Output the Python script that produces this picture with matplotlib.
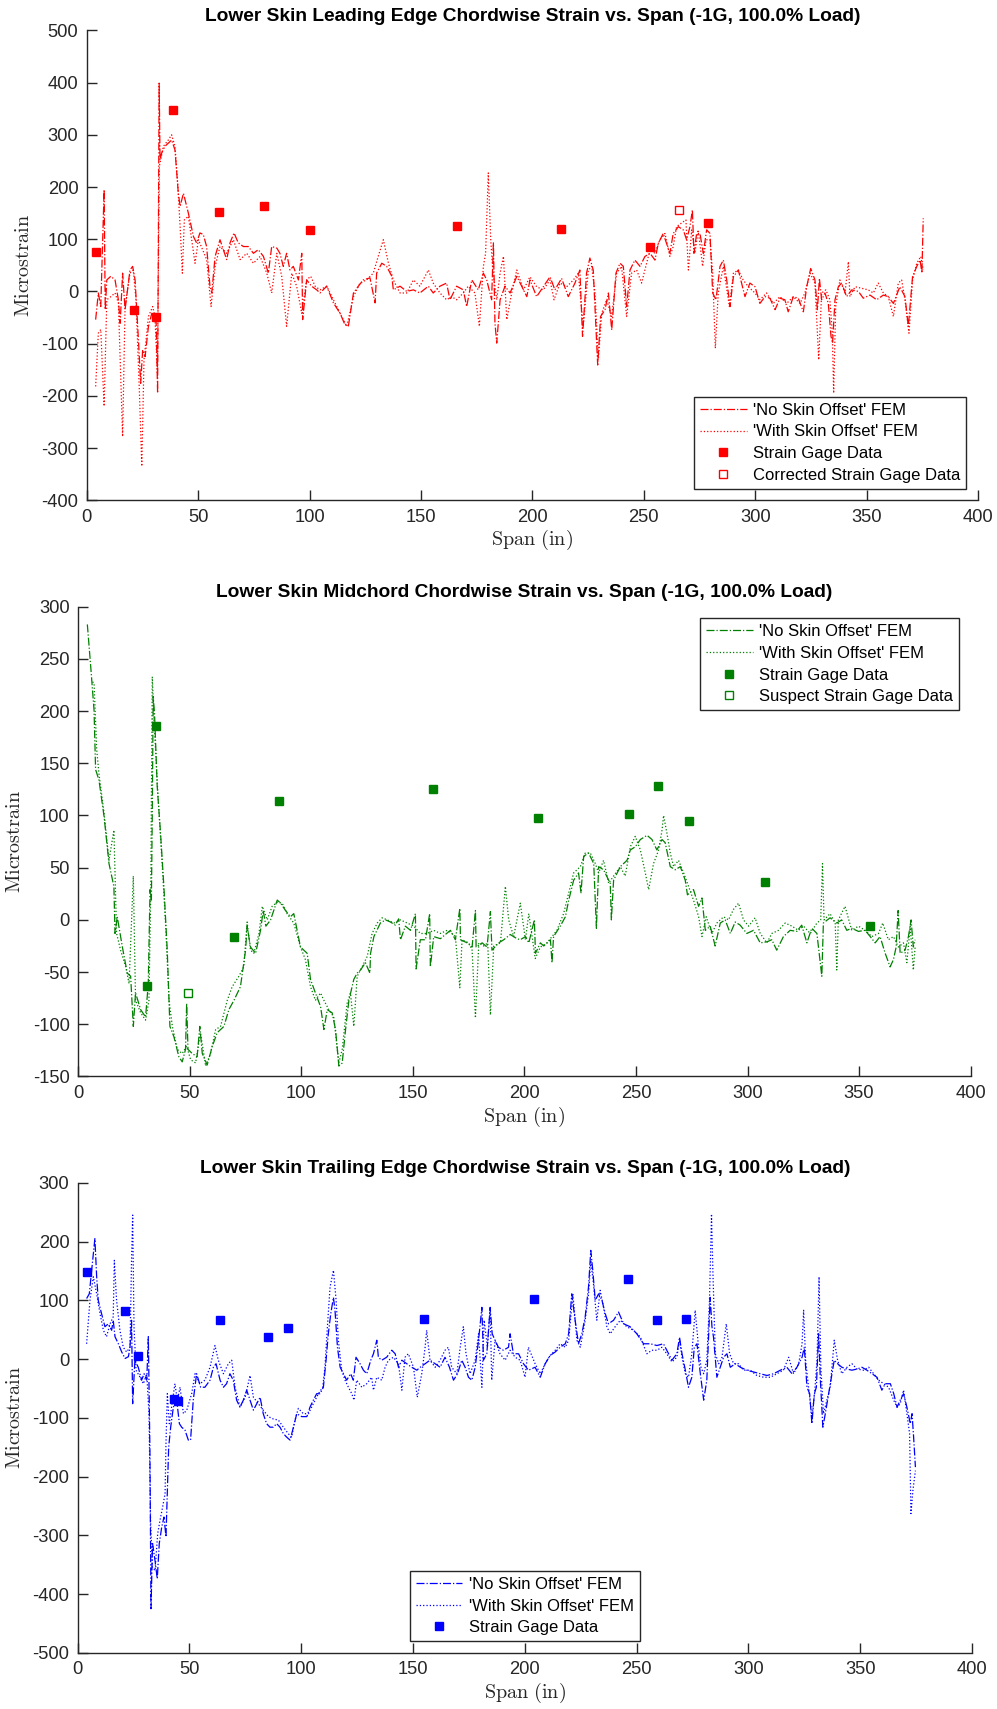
import matplotlib
matplotlib.use("Agg")
import matplotlib.pyplot as plt

plt.rcParams['font.family'] = ['Liberation Sans', 'DejaVu Sans']
plt.rcParams['mathtext.fontset'] = 'cm'
plt.rcParams['axes.unicode_minus'] = False

AXIS_COLOR = '#262626'

# ---- Leading edge (top panel) ----
le_no_offset = [
    (4, -54), (5.2, -3), (6.3, -29), (7.8, 195), (8.3, -35), (9, 22), (10.8, 29), (12.7, 22), (14.2, -16), (15, -61),
    (16.1, 35), (17.2, -35), (19.4, 41), (20.6, 48), (21.7, 22), (23.2, -93), (24.2, -176), (25.1, -112), (26.2, -125),
    (27.7, -67), (29.2, -42), (31.1, -48), (31.8, -195), (32.5, 399), (32.9, 252), (33.6, 265), (35.1, 278), (36.6, 284),
    (38.1, 290), (39.6, 271), (41.1, 188), (41.9, 163), (43.4, 188), (45.6, 150), (47.9, 105), (49.3, 93), (50.8, 112),
    (52.3, 109), (53.8, 86), (55.3, 10), (56.1, -3), (57.6, 67), (59.8, 99), (61.3, 80), (62.8, 61), (64.3, 93),
    (66.1, 112), (68, 93), (70.3, 86), (72.5, 86), (74.8, 73), (77, 80), (79.3, 67), (81.5, 35), (83, 86), (85.3, 83),
    (86.7, 73), (88.2, 48), (89.7, 73), (91.2, 41), (92.7, 48), (95, 22), (96.5, 73), (96.9, -54), (98.7, 22),
    (100.9, 10), (103.2, 3), (104.7, -3), (107.7, 10), (110.7, -22), (113.7, -42), (115.9, -64), (117.4, -67),
    (119.7, -3), (121.9, 10), (124.1, 22), (127.1, 26), (129.4, -22), (130.1, 35), (132.4, 54), (134.6, 48),
    (136.9, 29), (137.6, 3), (140.6, 10), (143.6, 0), (146.6, 3), (149.5, -3), (153.3, 10), (155.5, -3), (158.5, 10),
    (161.5, 16), (163, -16), (166, 10), (169, 3), (170.5, -29), (172.8, 22), (175.7, 3), (178, 35), (179.5, 22),
    (181.7, -16), (182.5, 93), (183.2, -61), (184, -99), (185.5, -16), (187.7, 10), (190, -3), (193, 29), (195.2, 10),
    (197.5, -10), (198.9, 22), (201.9, -10), (204.9, 9), (207.9, 28), (210.1, 3), (213.1, 25), (216.1, -10),
    (219.1, 16), (221.3, 41), (222.5, -86), (224.3, 35), (225.8, 64), (227.3, 41), (229.3, -141), (230.6, -48),
    (232.6, -35), (234.1, -3), (235.6, -74), (237.5, 35), (239.3, 54), (240.8, 48), (242.3, -29), (243.8, 41),
    (246, 60), (248.3, 48), (250.5, 67), (252.8, 73), (255, 60), (256.5, 92), (258.7, 111), (261.7, 73), (263.2, 111),
    (265.5, 124), (267.7, 118), (269.2, 99), (270.7, 124), (271.8, 156), (272.5, 73), (273.7, 111), (275.2, 111),
    (276.7, 73), (278.2, 118), (279.7, 111), (280.9, -3), (282.4, -16), (284.2, 48), (285.7, 60), (287.2, 22),
    (288.7, -29), (290.2, 28), (292.4, 41), (295.4, -10), (297.6, 16), (299.9, 9), (302.1, -23), (304.4, -10),
    (306.6, -13), (308.9, -35), (311.1, -13), (313.3, -16), (314.8, -39), (317.1, -10), (319.3, -13), (321.6, -39),
    (323.1, 9), (324.9, 44), (326.8, 22), (327.9, -35), (328.8, 25), (329.8, -16), (331.3, -3), (332.8, -23),
    (334, -86), (334.7, -99), (335.8, -16), (337.3, 9), (338.8, 16), (341, -10), (343.3, 3), (346.3, 0), (348.5, -13),
    (351.5, -7), (354.5, -16), (357.5, -7), (359.7, -10), (362, -23), (364.9, 9), (367.2, -10), (368.7, -67),
    (370.6, 28), (372.5, 48), (374, 60), (374.8, 35), (375.4, 140),
]
le_with_offset = [
    (4, -182), (5.2, -80), (6.3, -73), (7.8, -220), (9, -16), (10.8, -10), (12.7, -3), (14.2, -22), (16.1, -278),
    (17.2, -29), (19.4, 35), (20.9, 41), (22.1, -16), (23.6, -188), (24.7, -335), (25.7, -131), (27.7, -48),
    (29.6, -29), (30.6, -48), (31.7, -156), (32.6, 240), (34.4, 278), (36.6, 290), (38.1, 300), (39.6, 278),
    (40.8, 208), (41.9, 125), (42.9, 35), (43.8, 137), (45.6, 144), (48.6, 54), (50.1, 99), (52, 80), (53.8, 61),
    (55.8, -29), (57.6, 48), (59.8, 86), (62.8, 73), (65.8, 99), (68.8, 61), (71.8, 73), (74.8, 54), (77.8, 67),
    (80.8, 35), (83, -3), (85.3, 73), (87.5, 29), (89.7, -67), (92, 35), (94.2, 10), (96.5, -42), (98.7, 22),
    (100.5, 29), (102.5, 10), (104.7, 3), (107.7, 10), (110.7, -16), (114.4, -48), (116.7, -67), (119.7, -10),
    (122.6, 16), (125.6, 22), (128.6, 35), (130.8, 67), (133.1, 99), (135.4, 54), (137.6, 22), (140.6, -3),
    (143.6, -3), (146.6, 22), (149.5, 10), (153.3, 41), (155.5, 16), (158.5, -3), (161.5, -16), (163.8, -10),
    (166, -16), (169, -3), (171.2, 10), (174.2, -3), (176.2, -67), (178, 48), (179, 73), (180.2, 227), (181.3, 99),
    (182.2, 41), (184, -16), (185.5, 35), (187, 67), (188.5, -54), (190.7, -3), (193, 41), (196, 3), (198.9, 28),
    (201.9, 9), (204.9, 3), (207.9, 22), (209.7, -16), (212.4, 16), (215.4, 9), (218.4, 22), (220.6, 35),
    (222.8, -67), (225.1, 41), (226.6, 48), (228.1, -3), (229.6, -131), (231.1, -42), (233.3, -16), (235.6, -48),
    (237.8, 35), (240, 48), (242.3, -48), (244.5, 35), (246.8, 41), (249, 16), (250.5, 41), (252.8, 80), (255, 73),
    (257.2, 99), (259.5, 111), (261.7, 67), (263.2, 86), (264.7, 124), (266.9, 131), (268.9, 137), (270, 41),
    (271.5, 118), (272.9, 73), (274.4, 118), (276.4, 48), (277.9, 99), (279.7, 99), (280.9, 35), (282.1, -109),
    (283.4, -3), (285.7, 48), (288.4, -29), (290.2, 35), (292.4, 41), (294.6, 22), (296.9, 9), (299.9, -3),
    (302.1, -16), (305.1, -3), (308.1, -23), (311.1, -10), (314.1, -23), (317.1, -10), (320.1, -23), (322.3, -3),
    (324.6, 35), (326.8, 16), (328.5, -131), (329.8, -3), (331.7, 3), (333.5, -16), (334.6, -80), (335.2, -195),
    (336.1, -29), (338, 22), (340.3, -3), (341.8, 57), (342.5, -10), (344.8, 9), (347.7, 6), (350.7, 3), (353, -3),
    (355.2, 16), (357.5, -3), (359.7, -10), (362, -48), (364.2, 16), (365.7, 22), (367.2, -16), (369, -80),
    (370.6, 22), (372.5, 54), (374.3, 67), (375.4, 41),
]
le_gage = [(4, 76), (21, -35), (31, -49), (38.6, 348), (59.5, 153), (79.4, 163), (100.2, 117), (166, 125),
           (213, 119), (253, 86), (279, 132)]
le_gage_corrected = [(266, 156)]

# ---- Midchord (middle panel) ----
mc_no_offset = [
    (4.2, 283), (5.7, 243), (7.2, 201), (7.9, 144), (9.4, 134), (11.7, 99), (13.9, 54), (16.1, 32), (16.6, -13),
    (17.6, 3), (19.9, -26), (22.1, -51), (23.6, -54), (24.8, -102), (25.8, -70), (28.1, -86), (30.3, -93),
    (31.5, -61), (32.3, 29), (32.9, 19), (33.3, 102), (33.7, 214), (34.3, 198), (35.5, 128), (37, 83), (38.5, 32),
    (40, -29), (41.2, -102), (43, -112), (45.2, -131), (46.7, -136), (48.2, -124), (48.7, -80), (49.3, -124),
    (51.2, -128), (53.4, -131), (54.6, -102), (55.7, -128), (57.9, -139), (60.2, -121), (62.4, -108), (65.4, -102),
    (67.6, -86), (69.9, -77), (72.8, -64), (75.1, -29), (75.8, -6), (77.3, -26), (79.6, -32), (81.8, -10), (83, 9),
    (84.2, -6), (86.3, 0), (89.3, 19), (90.8, 16), (93, 9), (95.2, 3), (96.7, 6), (99.7, -26), (102.7, -32),
    (104.2, -57), (106.4, -70), (108.7, -83), (110.2, -105), (111.7, -86), (113.9, -89), (115.4, -105),
    (116.9, -140), (118.4, -137), (119.9, -105), (121.4, -77), (123.6, -57), (125.1, -51), (126.6, -48),
    (128.8, -41), (130.8, -51), (131.1, -32), (132.6, -16), (135.5, -3), (137.8, 0), (140, -2), (142.2, -5),
    (143.7, 1), (144.5, -19), (146.7, -6), (149, -10), (151.2, 6), (151.5, -47), (153.4, -19), (155.7, -19),
    (157.6, 6), (157.9, -45), (159.4, -16), (162.4, -18), (164.6, -14), (166.9, -10), (169.1, -19), (171.1, 11),
    (171.4, -19), (174.4, -22), (176.6, -26), (178.1, 9), (178.4, -26), (181.1, -22), (183.3, -26), (184.8, 8),
    (185.5, -29), (188.5, -22), (190.8, -19), (193.7, -14), (196.7, -18), (198.2, -19), (200.5, -16), (202, -22),
    (204.5, 0), (205, -32), (207.2, -22), (208.7, -25), (211.7, -19), (212.4, -41), (213.1, -16), (216.1, -6),
    (218.4, 3), (219.9, 19), (222.1, 38), (224.3, 45), (225.4, 26), (226.6, 61), (228.8, 64), (231.1, 54),
    (232.3, -8), (233.3, 51), (235.5, 48), (238.5, 35), (239, 0), (240, 38), (243, 51), (246, 57), (247.5, 67),
    (249.7, 70), (252, 77), (255, 81), (257.2, 77), (259.4, 67), (261.7, 77), (263.1, 74), (265.4, 51), (267.6, 48),
    (269.9, 51), (272.1, 38), (273.1, 24), (275.8, 29), (278.1, 13), (279.6, 21), (281.1, -10), (283.3, -6),
    (285.5, -25), (287.8, -3), (290, 0), (292.3, -13), (294.5, -2), (296.7, -5), (299.7, -13), (302.7, -10),
    (305.7, -22), (308.7, -21), (310.9, -19), (313.1, -29), (316.1, -16), (319.1, -10), (322.1, -11), (324.3, -5),
    (326.6, -22), (328.8, -8), (331.1, -13), (333.3, -54), (334, -3), (337, 2), (340, -3), (342.2, 0), (344.5, -10),
    (346.7, -8), (349.7, -11), (352.7, -10), (355, -16), (357.2, -22), (359.4, -16), (361.7, -32), (363.9, -45),
    (365.4, -38), (366.6, -26), (367.5, 9), (368.4, -32), (370.6, -29), (372.1, -16), (373.3, 0), (374.3, -26),
    (375.1, -19),
]
mc_with_offset = [
    (6.5, 228), (7.2, 227), (8.4, 163), (9.4, 140), (11.7, 102), (13.9, 57), (16.1, 86), (17.3, -13), (19.1, -29),
    (21.4, -45), (22.9, -61), (24.8, 42), (25.8, -77), (28.1, -89), (30.3, -96), (31.8, -77), (32.6, 26), (33, 153),
    (33.3, 233), (34, 195), (35.8, 121), (37.8, 51), (39.3, -6), (40.8, -77), (42.3, -102), (44.5, -124),
    (46.7, -128), (48.7, -121), (50.5, -134), (52.7, -137), (54.9, -108), (57.2, -140), (59.4, -128), (61.7, -105),
    (63.9, -102), (66.9, -77), (69.1, -64), (72.1, -54), (74.3, -45), (75.8, -2), (77.3, -29), (78.8, -32),
    (81.1, -13), (82.6, 13), (84.8, 0), (87, 13), (89.3, 17), (91.5, 16), (93.7, 6), (96.7, -3), (99.7, -26),
    (101.9, -38), (104.2, -64), (106.4, -77), (108.7, -70), (110.2, -77), (112.4, -86), (114.6, -93), (116.9, -137),
    (118.4, -124), (120.6, -80), (122.1, -70), (123.6, -102), (125.1, -54), (127.3, -45), (129.6, -35), (131.8, -13),
    (134.1, -3), (136.3, 2), (138.6, 0), (141.5, -3), (144.5, 0), (147.5, -3), (150.5, -6), (153.4, -13),
    (156.4, -13), (159.4, -10), (162.4, -13), (165.4, -10), (167.6, -13), (169.1, -16), (171.1, -65), (172.1, -19),
    (175.1, -22), (176.6, -29), (178.1, -94), (179.6, -22), (181.8, -25), (183.6, -22), (184.8, -91), (186.3, -25),
    (189.3, -22), (191.5, 32), (193, 0), (195.2, -16), (198.2, 16), (200.5, -19), (202, 6), (204.9, -37),
    (207.2, -26), (210.2, -22), (212.4, -16), (214.6, -10), (217.6, 6), (219.9, 26), (222.1, 45), (225.1, 51),
    (227.3, 64), (229.6, 64), (231.8, 54), (233.3, 45), (235.5, 57), (237.8, 35), (240, 42), (243, 51), (245.2, 42),
    (247.5, 70), (249.7, 80), (252, 67), (254.2, 45), (255.7, 29), (257.9, 54), (260.2, 67), (261.7, 86),
    (262.4, 100), (263.9, 83), (265.4, 64), (266.9, 51), (269.1, 57), (271.4, 45), (273.6, 32), (275.8, 19),
    (278.1, 3), (279.6, -16), (281.5, 3), (284, -13), (286.3, -3), (289.3, 3), (291.5, 0), (293.7, 10), (296, 16),
    (298.2, 0), (300.5, -6), (303.4, 2), (305.7, -13), (308.7, -22), (310.9, -13), (313.9, -10), (316.9, -3),
    (319.9, -6), (322.8, -10), (325.1, -6), (328.1, -13), (331.1, -3), (332.8, 0), (333.6, 54), (334.3, 0), (337, 6),
    (339.3, -3), (340, -48), (340.7, 0), (343.7, 13), (346.7, -10), (349.7, -6), (352.7, -10), (355.7, -16),
    (358.7, -13), (360.6, -3), (363.1, -19), (365.4, -16), (367.6, -26), (369.9, -22), (371.4, -41), (372.9, -6),
    (374.3, -48), (375.1, -26),
]
mc_gage = [(31, -63), (35, 186), (70, -16), (90, 114), (159, 125), (206, 98), (247, 101), (260, 128), (274, 95),
           (308, 36), (355, -6)]
mc_gage_suspect = [(49.4, -70)]

# ---- Trailing edge (bottom panel) ----
te_no_offset = [
    (4, 103), (5.2, 111), (6.7, 168), (7.7, 205), (8.5, 140), (9.2, 100), (10.7, 77), (12.2, 55), (13.7, 60),
    (15.2, 49), (15.9, 66), (16.7, 38), (18.2, 26), (19.7, 12), (21.2, 1), (22.7, 4), (23.4, 20), (24.1, 66),
    (24.6, -76), (25.6, -2), (27.1, -14), (28.6, -36), (29.7, -25), (30.9, -36), (31.6, 38), (32.3, -150),
    (32.8, -425), (33.5, -314), (34.6, -343), (35.6, -374), (36.5, -314), (37.6, -286), (38.6, -269), (39.5, -303),
    (40.1, -229), (40.7, -150), (41.6, -116), (42.8, -82), (44.3, -70), (45.5, -110), (46.5, -116), (48, -121),
    (49.5, -138), (50.5, -138), (51.7, -70), (53.2, -25), (55, -48), (56.9, -48), (59.2, -36), (60.7, -14),
    (61.9, -8), (63.7, -36), (65.2, -48), (66.6, -42), (68.1, -25), (69.6, -36), (71.1, -70), (72.6, -82),
    (74.1, -70), (75.6, -53), (77.1, -70), (78.6, -87), (80.1, -76), (81.6, -65), (83, -93), (84.5, -110),
    (86, -116), (87.5, -116), (89, -110), (90.5, -116), (92, -127), (93.5, -133), (95, -138), (96.5, -116),
    (98, -93), (100.2, -98), (102.5, -98), (103.9, -82), (105.4, -70), (106.9, -59), (108.4, -59), (109.9, -48),
    (111.1, -2), (112.1, 43), (113.2, 77), (114.4, 105), (115.1, 83), (116.2, 20), (117.4, -14), (118.9, -25),
    (120.3, -36), (122.1, -25), (123.3, -36), (124.5, 3), (126.3, -8), (127.8, -19), (129.3, -25), (131.1, -2),
    (132.3, 9), (133.8, 32), (134.5, 3), (136, -2), (138.2, 3), (140.5, 15), (142, 9), (143.5, -14), (145, -2),
    (147.2, -8), (149.4, -14), (151.7, -19), (153.2, -14), (155.4, -8), (157.6, -2), (159.9, -8), (162.1, -14),
    (164.3, 3), (166.3, -14), (168.1, -36), (169.9, -25), (171.8, -2), (173.3, -14), (174.8, -31), (176.3, -36),
    (177.8, -14), (179.3, 32), (180.8, 88), (181.5, -2), (183, 9), (184.5, 88), (185.4, 43), (186.7, 32),
    (188.2, 20), (190.4, 15), (192.7, 20), (193.4, 43), (194.9, 9), (197.2, 9), (199.4, -8), (201.6, -19),
    (204.6, -14), (206.9, -31), (209.1, -8), (211.3, 6), (213.6, 12), (215.8, 20), (218.1, 26), (219.6, 43),
    (221, 111), (222.5, 66), (224, 26), (225.5, 43), (227, 72), (228.5, 123), (229.5, 185), (230.4, 151),
    (231.5, 100), (233, 111), (234.5, 100), (236, 77), (237.4, 60), (239.7, 66), (241.9, 80), (244.2, 60),
    (247.1, 55), (250.1, 43), (253.1, 26), (256.1, 26), (259.1, 23), (262, 26), (263.5, 15), (265.8, -2), (268, 9),
    (269.2, 37), (270.3, 9), (271.8, -19), (273.2, -48), (274.7, -31), (275.8, 20), (277, 26), (278.5, -25),
    (280, -70), (281.4, -36), (282.9, 105), (283.7, 55), (284.4, 37), (285.9, -31), (287.4, -14), (288.9, 3),
    (290.4, 9), (291.9, -14), (294.1, -8), (296.4, -14), (299.3, -19), (302.3, -22), (305.3, -25), (308.3, -28),
    (311.3, -25), (314.3, -19), (317.2, -14), (319.5, -25), (321.7, -14), (324, 3), (325, 20), (326.2, -48),
    (327.4, -59), (328.4, -110), (329.5, -59), (330.4, -48), (331.4, 43), (332.2, -36), (333.3, -116), (334.4, -93),
    (335.9, -59), (337.4, -25), (338.4, -2), (339.9, -8), (341.8, -14), (344.1, -17), (346.3, -19), (348.6, -17),
    (350.8, -14), (353, -19), (355.3, -25), (357.5, -31), (359.7, -53), (361.2, -42), (363.5, -42), (365, -59),
    (366.5, -82), (367.9, -70), (369.4, -59), (370.9, -82), (372.4, -110), (373.2, -93), (373.9, -133),
    (374.7, -184),
]
te_with_offset = [
    (4, 26), (5.5, 100), (7, 140), (8.5, 111), (10, 77), (11.5, 49), (12.9, 38), (14.5, 60), (15.9, 72), (16.4, 168),
    (17.4, 100), (18.9, 49), (20.4, 20), (21.9, 12), (23.4, 20), (24.1, 168), (24.6, 245), (25.2, 55), (26.1, -19),
    (27.9, -31), (29.4, -42), (30.9, -25), (31.9, -93), (32.6, -275), (33.4, -354), (34.6, -360), (35.8, -297),
    (36.8, -275), (38, -252), (39.1, -229), (39.5, -144), (40.1, -59), (41, -110), (42, -82), (43.5, -42),
    (44.6, -70), (45.8, -48), (47.3, -93), (48.8, -87), (51, -59), (52.5, -25), (54.7, -42), (56.9, -36),
    (59.2, -14), (61.4, 23), (62.9, -2), (65.2, -25), (67.4, -8), (68.9, -2), (70.4, -48), (72.6, -82), (74.9, -65),
    (77.1, -28), (78.6, -65), (80.8, -76), (83, -87), (85.3, -98), (87.5, -102), (89.8, -104), (92, -116),
    (94.2, -127), (95.7, -133), (97.2, -104), (98.7, -84), (100.9, -93), (103.2, -93), (105.4, -76), (107.7, -59),
    (109.6, -48), (110.6, -14), (111.7, 55), (112.9, 123), (114.4, 151), (115.6, 100), (116.6, 32), (118.1, -19),
    (119.6, -36), (121.1, -48), (122.6, -59), (123.6, -70), (124.8, -36), (127.1, -48), (129.3, -42), (131.5, -31),
    (132.3, -53), (133.8, -31), (136, -36), (137.5, -14), (139, -2), (141.2, 3), (143.5, -8), (145, -53), (146.4, 3),
    (147.9, 9), (150.2, -14), (151.9, -65), (153.9, -25), (155.4, 20), (156.1, 49), (157.6, -2), (159.9, -14),
    (162.1, -2), (164.3, 15), (165.8, 20), (167.3, -14), (169.6, -25), (171.1, 20), (172.5, 55), (173.7, 9),
    (175.5, -25), (177.8, -2), (179.3, 43), (180.8, -48), (181.8, 66), (183.3, 20), (184.5, 88), (185.2, -36),
    (186.7, 32), (188.9, 9), (191.2, -2), (193.4, 15), (195.7, 3), (197.9, -2), (200.1, -31), (201.6, 20),
    (204.6, -8), (206.9, -25), (209.1, -8), (211.3, 6), (213.6, 15), (215.8, 26), (218.1, 20), (219.6, 32),
    (221.5, 111), (223.3, 32), (224.8, 20), (227, 66), (228.5, 111), (229.5, 168), (230.7, 128), (232.2, 66),
    (233.7, 117), (235.2, 88), (236.7, 55), (238.2, 43), (240.4, 55), (242.7, 66), (245.6, 55), (248.6, 49),
    (251.6, 38), (254.6, 9), (256.8, 15), (259.1, 15), (261.3, 20), (263.5, 9), (265.8, -5), (268, 3), (269.2, 32),
    (270.3, 3), (271.8, -25), (273.2, -31), (274.7, 9), (276.2, 83), (277.7, 20), (278.8, -14), (280, -25),
    (281.4, -2), (282.6, 100), (283.5, 247), (284.1, 151), (285.2, 9), (286.7, -8), (288.2, 3), (290.1, 60),
    (291.6, 9), (293.4, -8), (295.6, -8), (297.8, -19), (300.8, -19), (303.8, -28), (306.8, -31), (309.8, -31),
    (312.8, -25), (315.7, -19), (318, 3), (320.2, -25), (322.5, -8), (324, 26), (324.7, 83), (325.6, -2),
    (326.9, -48), (328.4, -98), (329.6, -59), (330.7, -2), (331.6, 140), (332.4, -14), (333.6, -93), (335.1, -70),
    (336.6, -48), (338.4, 32), (339.9, -2), (341.8, -25), (344.1, -14), (346.3, -8), (348.6, -17), (351.5, -19),
    (353.8, -14), (356, -25), (358.3, -36), (360.5, -42), (362.7, -48), (365, -70), (366.5, -82), (367.9, -76),
    (369.4, -53), (370.9, -93), (372.1, -127), (372.7, -263), (373.6, -223), (374.7, -190),
]
te_gage = [(4, 149), (21, 82), (27, 5), (43, -68), (45, -72), (63.5, 66), (85, 37), (94, 53), (155, 69), (204, 103),
           (246, 137), (259, 67), (272, 69)]

x_ticks = [0, 50, 100, 150, 200, 250, 300, 350, 400]


def xy(points):
    return [p[0] for p in points], [p[1] for p in points]


def draw_panel(ax, title, color, no_offset, with_offset, gage, extra, extra_label, ylim, ystep, legend_loc):
    x, y = xy(no_offset)
    ax.plot(x, y, linestyle='-.', color=color, linewidth=0.9, label="'No Skin Offset' FEM")
    x, y = xy(with_offset)
    ax.plot(x, y, linestyle=':', color=color, linewidth=0.9, label="'With Skin Offset' FEM")
    x, y = xy(gage)
    ax.plot(x, y, linestyle='none', marker='s', markersize=6, color=color, label='Strain Gage Data')
    if extra:
        x, y = xy(extra)
        ax.plot(x, y, linestyle='none', marker='s', markersize=6, markerfacecolor='none',
                markeredgecolor=color, markeredgewidth=1.0, label=extra_label)

    ax.set_xlim(0, 400)
    ax.set_ylim(*ylim)
    ax.set_xticks(x_ticks)
    ax.set_yticks(list(range(ylim[0], ylim[1] + 1, ystep)))

    for side in ('top', 'right'):
        ax.spines[side].set_visible(False)
    for side in ('left', 'bottom'):
        ax.spines[side].set_color(AXIS_COLOR)
        ax.spines[side].set_linewidth(1.0)
    ax.tick_params(direction='in', length=7, width=1.0, color=AXIS_COLOR, labelcolor=AXIS_COLOR,
                   labelsize=13.2, pad=6)

    ax.set_title(title, fontsize=13.8, fontweight='bold', color='black', pad=7)
    ax.set_xlabel(r'$\mathrm{Span\ (in)}$', fontsize=14.5, color=AXIS_COLOR, labelpad=2)
    ax.set_ylabel(r'$\mathrm{Microstrain}$', fontsize=14.5, color=AXIS_COLOR, labelpad=6)

    leg = ax.legend(loc=legend_loc, fontsize=12, frameon=True, fancybox=False, framealpha=1,
                    edgecolor=AXIS_COLOR, handlelength=2.8, handletextpad=0.4, labelspacing=0.4,
                    borderpad=0.35, borderaxespad=0.7)
    leg.get_frame().set_linewidth(1.0)


fig = plt.figure(figsize=(9.97, 17.09), dpi=100)

ax1 = fig.add_axes([0.0870, 0.7073, 0.8940, 0.2749])
draw_panel(ax1, 'Lower Skin Leading Edge Chordwise Strain vs. Span (-1G, 100.0% Load)', '#ff0000',
           le_no_offset, le_with_offset, le_gage, le_gage_corrected, 'Corrected Strain Gage Data',
           (-400, 500), 100, 'lower right')

ax2 = fig.add_axes([0.0782, 0.3701, 0.8954, 0.2749])
draw_panel(ax2, 'Lower Skin Midchord Chordwise Strain vs. Span (-1G, 100.0% Load)', '#008000',
           mc_no_offset, mc_with_offset, mc_gage, mc_gage_suspect, 'Suspect Strain Gage Data',
           (-150, 300), 50, 'upper right')

ax3 = fig.add_axes([0.0779, 0.0329, 0.8970, 0.2750])
draw_panel(ax3, 'Lower Skin Trailing Edge Chordwise Strain vs. Span (-1G, 100.0% Load)', '#0000ff',
           te_no_offset, te_with_offset, te_gage, None, None,
           (-500, 300), 100, 'lower center')

fig.savefig('out.png', dpi=100)
